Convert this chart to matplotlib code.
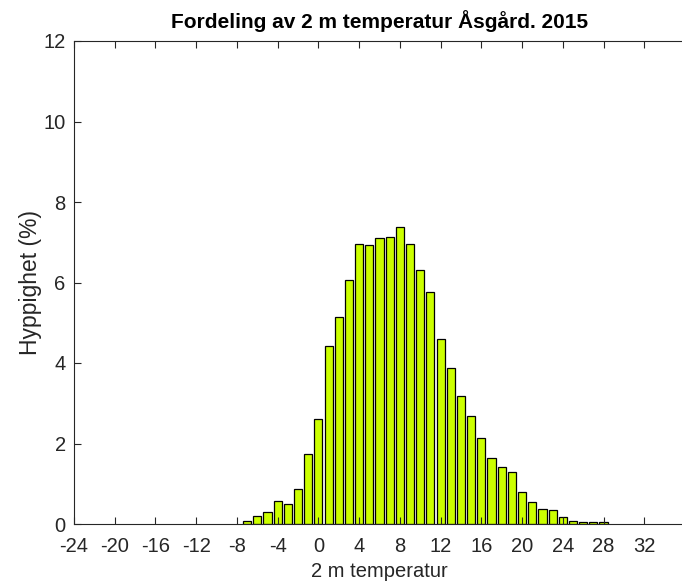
import numpy as np
import matplotlib
matplotlib.use('Agg')
import matplotlib.pyplot as plt

plt.rcParams['font.family'] = ['Liberation Sans', 'DejaVu Sans']
plt.rcParams['axes.unicode_minus'] = False

# Temperature bins (centre, deg C) and frequency in percent
temp = [-7, -6, -5, -4, -3, -2, -1, 0, 1, 2, 3, 4, 5, 6, 7, 8, 9, 10,
        11, 12, 13, 14, 15, 16, 17, 18, 19, 20, 21, 22, 23, 24, 25, 26, 27, 28]
freq = [0.07, 0.20, 0.31, 0.58, 0.50, 0.87, 1.74, 2.61, 4.41, 5.15, 6.05,
        6.96, 6.94, 7.11, 7.12, 7.37, 6.96, 6.30, 5.76, 4.60, 3.88, 3.17,
        2.68, 2.14, 1.63, 1.42, 1.28, 0.80, 0.55, 0.38, 0.34, 0.17, 0.07,
        0.04, 0.06, 0.06]
xticks = list(range(-24, 33, 4))
yticks = [0, 2, 4, 6, 8, 10, 12]

W, H = 682, 583
fig = plt.figure(figsize=(W / 100, H / 100), dpi=100)
# axes in pixel coords: left 74, top 41, bottom 524; right side cropped off like the original
ax = fig.add_axes([74 / W, (H - 524) / H, 611 / W, 483 / H])

ax.bar(temp, freq, width=0.8, color='#ccff00', edgecolor='black', linewidth=0.9)

ax.set_xlim(-24, 36)
ax.set_ylim(0, 12)
ax.set_xticks(xticks)
ax.set_yticks(yticks)
ax.tick_params(direction='in', top=True, right=False, length=5, width=0.8,
               colors='#262626', labelsize=14.5)
ax.tick_params(axis='x', pad=9)
ax.tick_params(axis='y', pad=6)
for s in ax.spines.values():
    s.set_color('#262626')
    s.set_linewidth(0.8)
ax.spines['right'].set_visible(False)

ax.set_xlabel('2 m temperatur', fontsize=14.5, color='#262626', labelpad=5)
ax.set_ylabel('Hyppighet (%)', fontsize=16.5, color='#262626', labelpad=1)
ax.set_title('Fordeling av 2 m temperatur Åsgård. 2015', fontsize=15,
             fontweight='bold', pad=9)

fig.savefig('out.png', dpi=100)
